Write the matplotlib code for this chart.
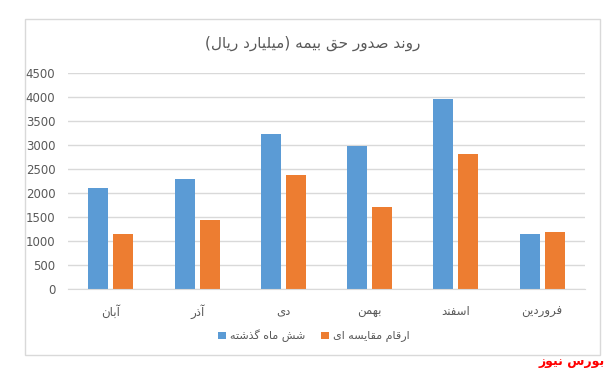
import matplotlib
matplotlib.use('Agg')
import matplotlib.pyplot as plt
from matplotlib.patches import Rectangle
import numpy as np

# داده‌ها
months = ['آبان', 'آذر', 'دی', 'بهمن', 'اسفند', 'فروردین']
past_six = [2110, 2300, 3235, 2985, 3965, 1150]
compare = [1150, 1445, 2380, 1715, 2820, 1195]
series_names = ['شش ماه گذشته', 'ارقام مقایسه ای']
title = 'روند صدور حق بیمه (میلیارد ریال)'
yticks = [0, 500, 1000, 1500, 2000, 2500, 3000, 3500, 4000, 4500]

# شکل‌دهی ساده حروف فارسی (matplotlib خودش اتصال حروف را انجام نمی‌دهد)
FORMS = {
    'ا': ('\uFE8D', '\uFE8E', None, None),
    'آ': ('\uFE81', '\uFE82', None, None),
    'د': ('\uFEA9', '\uFEAA', None, None),
    'ذ': ('\uFEAB', '\uFEAC', None, None),
    'ر': ('\uFEAD', '\uFEAE', None, None),
    'ز': ('\uFEAF', '\uFEB0', None, None),
    'و': ('\uFEED', '\uFEEE', None, None),
    'ب': ('\uFE8F', '\uFE90', '\uFE91', '\uFE92'),
    'ت': ('\uFE95', '\uFE96', '\uFE97', '\uFE98'),
    'ح': ('\uFEA1', '\uFEA2', '\uFEA3', '\uFEA4'),
    'س': ('\uFEB1', '\uFEB2', '\uFEB3', '\uFEB4'),
    'ش': ('\uFEB5', '\uFEB6', '\uFEB7', '\uFEB8'),
    'ص': ('\uFEB9', '\uFEBA', '\uFEBB', '\uFEBC'),
    'ع': ('\uFEC9', '\uFECA', '\uFECB', '\uFECC'),
    'ف': ('\uFED1', '\uFED2', '\uFED3', '\uFED4'),
    'ق': ('\uFED5', '\uFED6', '\uFED7', '\uFED8'),
    'ل': ('\uFEDD', '\uFEDE', '\uFEDF', '\uFEE0'),
    'م': ('\uFEE1', '\uFEE2', '\uFEE3', '\uFEE4'),
    'ن': ('\uFEE5', '\uFEE6', '\uFEE7', '\uFEE8'),
    'ه': ('\uFEE9', '\uFEEA', '\uFEEB', '\uFEEC'),
    'ی': ('\uFBFC', '\uFBFD', '\uFBFE', '\uFBFF'),
    'ک': ('\uFB8E', '\uFB8F', '\uFB90', '\uFB91'),
    'گ': ('\uFB92', '\uFB93', '\uFB94', '\uFB95'),
}


def fa(text):
    out = []
    n = len(text)
    for i, c in enumerate(text):
        if c not in FORMS:
            out.append(c)
            continue
        prev = text[i - 1] if i > 0 else None
        nxt = text[i + 1] if i + 1 < n else None
        f = FORMS[c]
        jp = prev in FORMS and FORMS[prev][2] is not None
        jn = f[2] is not None and nxt in FORMS
        if jp and jn:
            out.append(f[3])
        elif jp:
            out.append(f[1])
        elif jn:
            out.append(f[2])
        else:
            out.append(f[0])
    s = ''.join(reversed(out))
    return s.translate(str.maketrans('()', ')('))


plt.rcParams['font.family'] = ['DejaVu Sans']
grey = '#595959'

fig = plt.figure(figsize=(6.16, 3.71), dpi=100)
ax = fig.add_axes([0.110, 0.220, 0.840, 0.5824])

x = np.arange(len(months))
w = 0.232
ax.bar(x - 0.145, past_six, w, color='#5B9BD5', label=fa(series_names[0]))
ax.bar(x + 0.145, compare, w, color='#ED7D31', label=fa(series_names[1]))

ax.set_xlim(-0.5, len(months) - 0.5)
ax.set_ylim(0, 4500)
ax.set_yticks(yticks)
ax.set_xticks(x)
ax.set_xticklabels([fa(m) for m in months])
ax.tick_params(axis='both', length=0, colors=grey, labelsize=8.5)
ax.tick_params(axis='x', pad=11)
ax.tick_params(axis='y', pad=9)
ax.yaxis.grid(True, color='#d9d9d9', lw=1)
ax.set_axisbelow(True)
for sp in ['top', 'right', 'left']:
    ax.spines[sp].set_visible(False)
ax.spines['bottom'].set_color('#d9d9d9')

fig.text(0.507, 1 - 43 / 371, fa(title), ha='center', va='center',
         fontsize=11, color=grey)

ax.legend(loc='center', bbox_to_anchor=(0.51, 1 - 336 / 371), bbox_transform=fig.transFigure,
          ncol=2, frameon=False, fontsize=8, labelcolor=grey,
          handlelength=0.7, handleheight=0.7, handletextpad=0.4, columnspacing=1.4)

# کادر نمودار
fig.patches.append(Rectangle((25 / 616, 1 - 355 / 371), 575 / 616, 336 / 371,
                             transform=fig.transFigure, fill=False,
                             ec='#d9d9d9', lw=1))

fig.text(605 / 616, 1 - 362 / 371, fa('بورس نیوز'), ha='right', va='center',
         fontsize=9, color='red', fontweight='bold')

fig.savefig('out.png', dpi=100)
